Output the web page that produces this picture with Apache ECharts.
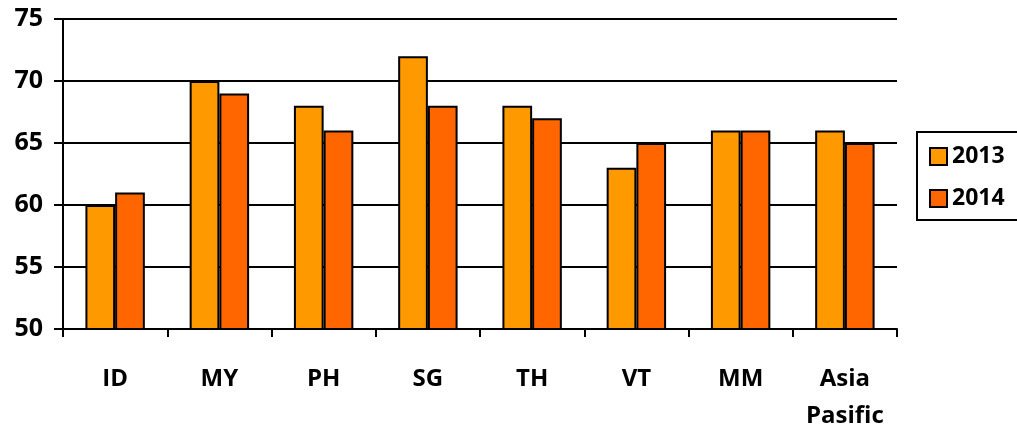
<!DOCTYPE html>
<html>
<head>
<meta charset="utf-8">
<script src="https://cdn.jsdelivr.net/npm/echarts@6/dist/echarts.min.js"></script>
<style>
  html, body { margin: 0; padding: 0; background: #fff; }
  #chart { width: 1017px; height: 435px; }
</style>
</head>
<body>
<div id="chart"></div>
<script>
// Regional index values by country, 2013 vs 2014
const categories = ['ID', 'MY', 'PH', 'SG', 'TH', 'VT', 'MM', 'Asia\nPasific'];
const values2013 = [60, 70, 68, 72, 68, 63, 66, 66];
const values2014 = [61, 69, 66, 68, 67, 65, 66, 65];
const yTicks = [50, 55, 60, 65, 70, 75];

const FONT = '"Open Sans", Lato, sans-serif';
const chart = echarts.init(document.getElementById('chart'));

chart.setOption({
  animation: false,
  backgroundColor: '#ffffff',
  textStyle: { fontFamily: FONT, fontWeight: 'bold', color: '#000' },
  grid: { left: 63, right: 120, top: 19, bottom: 100 },
  legend: {
    orient: 'vertical',
    left: 917,
    top: 132,
    padding: [13, 20, 10, 12],
    borderColor: '#000',
    borderWidth: 2,
    icon: 'rect',
    itemWidth: 17,
    itemHeight: 17,
    itemGap: 19,
    textStyle: { fontFamily: FONT, fontWeight: 'bold', fontSize: 23, color: '#000' },
    data: ['2013', '2014']
  },
  xAxis: {
    type: 'category',
    data: categories,
    axisLine: { lineStyle: { color: '#000', width: 2 } },
    axisTick: { show: true, length: 8, lineStyle: { color: '#000', width: 2 } },
    axisLabel: {
      color: '#000', fontFamily: FONT, fontWeight: 'bold', fontSize: 24,
      margin: 32, lineHeight: 37, interval: 0
    }
  },
  yAxis: {
    type: 'value',
    min: yTicks[0],
    max: yTicks[yTicks.length - 1],
    interval: 5,
    axisLine: { show: true, lineStyle: { color: '#000', width: 2 } },
    axisTick: { show: true, length: 9, lineStyle: { color: '#000', width: 2 } },
    splitLine: { show: true, lineStyle: { color: '#000', width: 2 } },
    axisLabel: { color: '#000', fontFamily: FONT, fontWeight: 'bold', fontSize: 25, margin: 20 }
  },
  series: [
    {
      name: '2013',
      type: 'bar',
      data: values2013,
      barGap: '0%',
      barCategoryGap: '43%',
      itemStyle: { color: '#FF9900', borderColor: '#000', borderWidth: 2 }
    },
    {
      name: '2014',
      type: 'bar',
      data: values2014,
      itemStyle: { color: '#FF6600', borderColor: '#000', borderWidth: 2 }
    }
  ]
});
</script>
</body>
</html>
